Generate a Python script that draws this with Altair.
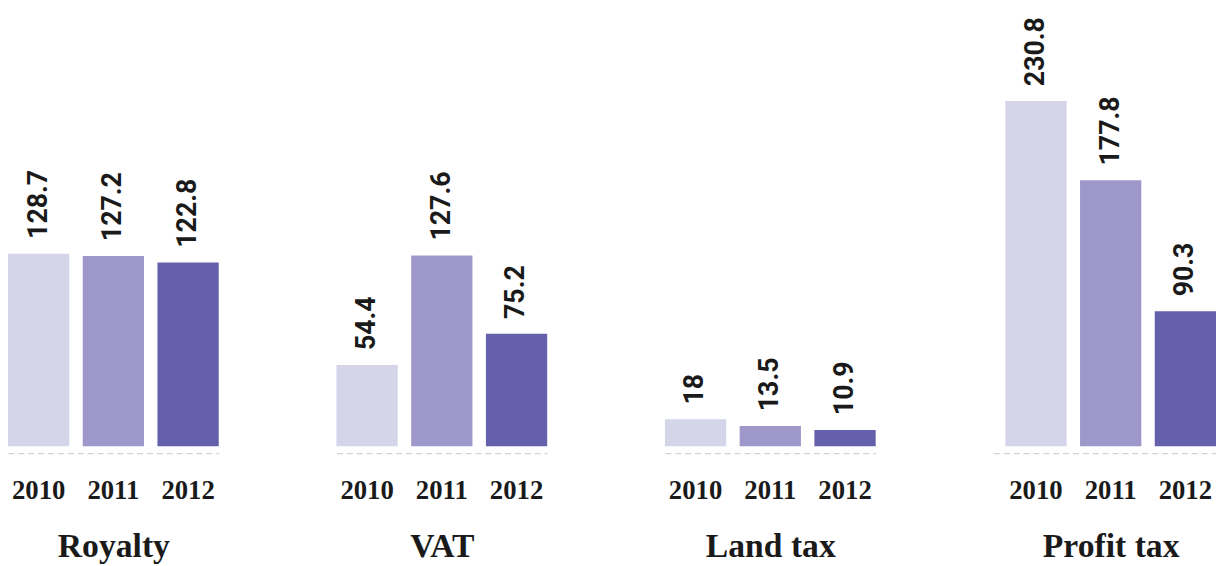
import altair as alt
import pandas as pd

categories = ["Royalty", "VAT", "Land tax", "Profit tax"]
years = ["2010", "2011", "2012"]
values = {
    "Royalty": [128.7, 127.2, 122.8],
    "VAT": [54.4, 127.6, 75.2],
    "Land tax": [18, 13.5, 10.9],
    "Profit tax": [230.8, 177.8, 90.3],
}
colors = ["#d5d5ea", "#9d98c9", "#6560ab"]


def panel(cat, width=213, outer=0.0):
    df = pd.DataFrame({"year": years, "value": values[cat],
                       "label": [f"{v:g}" for v in values[cat]]})
    extra = {}
    if outer > 0:
        extra = dict(titleX=width - 106.5, titleAlign="center", titleAnchor="start")
    base = alt.Chart(df).encode(
        x=alt.X("year:N", sort=years,
                scale=alt.Scale(paddingInner=0.18, paddingOuter=outer, align=1),
                axis=alt.Axis(title=cat, orient="bottom", ticks=False,
                              domain=True, domainDash=[6, 4], domainColor="#c8c8c8",
                              domainWidth=1, offset=7, labelAngle=0,
                              labelFont="Liberation Serif", labelFontWeight="bold",
                              labelFontSize=27, labelColor="#1a1a1a", labelPadding=25,
                              titleFont="Liberation Serif", titleFontWeight="bold",
                              titleFontSize=34, titleColor="#1a1a1a", titlePadding=26,
                              **extra)),
        y=alt.Y("value:Q", scale=alt.Scale(domain=[0, 291], nice=False), axis=None),
    )
    bars = base.mark_bar().encode(
        color=alt.Color("year:N", scale=alt.Scale(domain=years, range=colors), legend=None)
    )
    text = base.mark_text(angle=270, align="left", baseline="middle", dx=15,
                          font="Roboto", fontWeight="bold", fontSize=27,
                          color="#1a1a1a").encode(text="label:N")
    return alt.layer(bars, text).properties(width=width, height=440)


p = [panel(c) for c in categories[:3]] + [panel(categories[3], width=225, outer=0.08)]
chart = alt.hconcat(*p, spacing=118).configure_view(stroke=None).properties(padding=0)

chart.save("out.html", embed_options={"renderer": "svg", "actions": False})
